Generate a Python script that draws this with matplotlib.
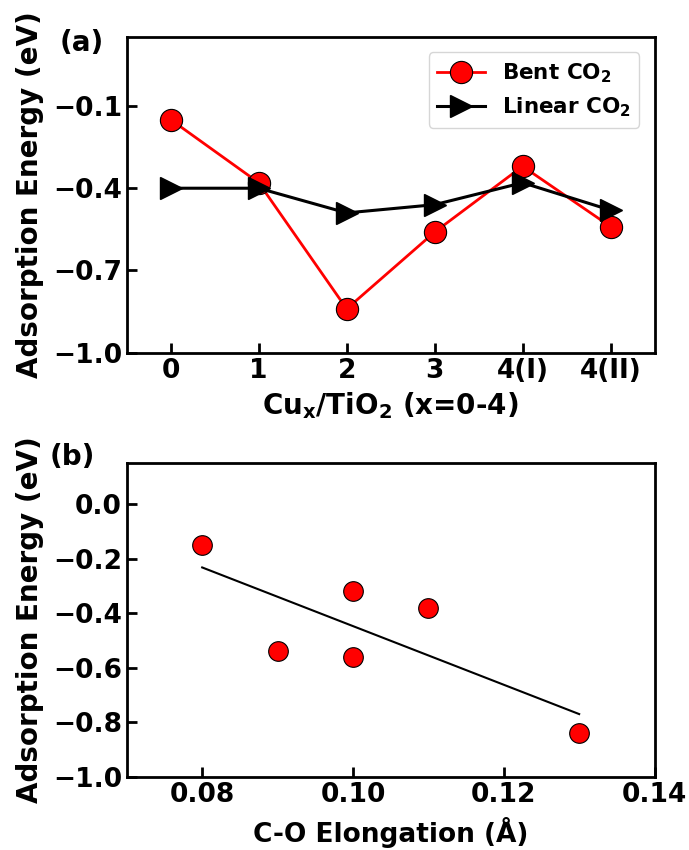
import matplotlib.pyplot as plt
import numpy as np

# data
configs = ["0", "1", "2", "3", "4(I)", "4(II)"]
bent_e = [-0.15, -0.38, -0.84, -0.56, -0.32, -0.54]
linear_e = [-0.40, -0.40, -0.49, -0.46, -0.38, -0.48]
co_elong = [0.08, 0.11, 0.13, 0.10, 0.10, 0.09]

plt.rcParams['font.weight'] = 'bold'
plt.rcParams['axes.labelweight'] = 'bold'
plt.rcParams['mathtext.default'] = 'bf'
plt.rcParams['axes.linewidth'] = 2

fig = plt.figure(figsize=(6.89, 8.5), dpi=100)
ax1 = fig.add_axes([0.184, 0.585, 0.766, 0.371])
ax2 = fig.add_axes([0.184, 0.086, 0.766, 0.369])

xpos = np.arange(len(configs))
ax1.plot(xpos, bent_e, '-o', color='red', mfc='red', mec='black', mew=0.8,
         ms=16, lw=2, label='Bent CO$_2$')
ax1.plot(xpos, linear_e, '->', color='black', ms=16, lw=2.2,
         label='Linear CO$_2$')
ax1.set_xticks(xpos)
ax1.set_xticklabels(configs)
ax1.set_xlim(-0.5, 5.5)
ax1.set_ylim(-1.0, 0.15)
ax1.set_yticks([-0.1, -0.4, -0.7, -1.0])
ax1.set_xlabel('Cu$_x$/TiO$_2$ (x=0-4)', fontsize=20, labelpad=5)
ax1.set_ylabel('Adsorption Energy (eV)', fontsize=20, labelpad=6)
ax1.legend(loc='upper right', fontsize=15.5, handlelength=2.2,
           borderaxespad=0.7)

# linear fit of bent CO2 energy vs elongation
k, b = np.polyfit(co_elong, bent_e, 1)
xf = np.array([min(co_elong), max(co_elong)])
ax2.plot(xf, k * xf + b, color='black', lw=1.5)
ax2.scatter(co_elong, bent_e, s=200, color='red', edgecolor='black',
            linewidth=0.8, zorder=3)
ax2.set_xlim(0.07, 0.14)
ax2.set_ylim(-1.0, 0.15)
ax2.set_xticks([0.08, 0.10, 0.12, 0.14])
ax2.set_yticks([0.0, -0.2, -0.4, -0.6, -0.8, -1.0])
ax2.set_xlabel('C-O Elongation (Å)', fontsize=19, labelpad=7)
ax2.set_ylabel('Adsorption Energy (eV)', fontsize=20, labelpad=6)

for ax in (ax1, ax2):
    ax.tick_params(direction='in', length=7, width=2, labelsize=19)

fig.text(0.087, 0.94, '(a)', fontsize=20, fontweight='bold')
fig.text(0.072, 0.453, '(b)', fontsize=20, fontweight='bold')

fig.savefig('out.png', dpi=100)
